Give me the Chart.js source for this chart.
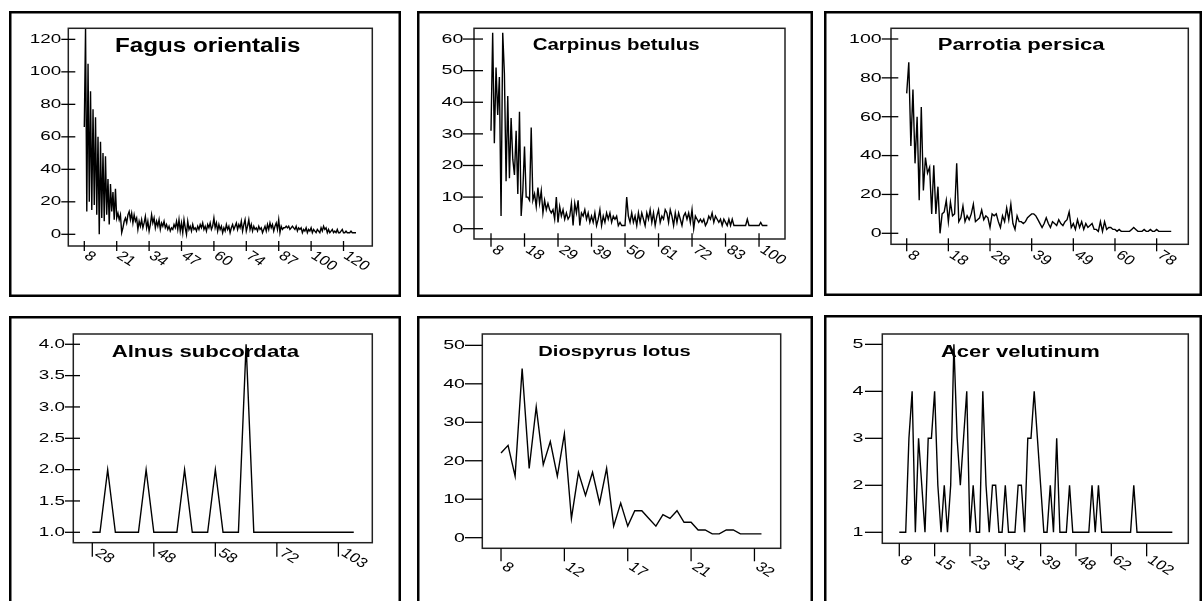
<!DOCTYPE html>
<html>
<head>
<meta charset="utf-8">
<script src="https://cdn.jsdelivr.net/npm/chart.js@4.4.1/dist/chart.umd.min.js"></script>
<style>
html,body{margin:0;padding:0;background:#fff;overflow:hidden;width:1204px;height:601px;}
canvas{position:absolute;}
</style>
</head>
<body>
<canvas id="c1" width="392" height="286" style="left:9px;top:11px;width:392px;height:286px"></canvas>
<canvas id="c2" width="396" height="286" style="left:417px;top:11px;width:396px;height:286px"></canvas>
<canvas id="c3" width="378" height="285" style="left:824px;top:11px;width:378px;height:285px"></canvas>
<canvas id="c4" width="392" height="300" style="left:9px;top:316px;width:392px;height:300px"></canvas>
<canvas id="c5" width="396" height="300" style="left:417px;top:316px;width:396px;height:300px"></canvas>
<canvas id="c6" width="378" height="300" style="left:824px;top:315px;width:378px;height:300px"></canvas>
<script>
// ---------------- DATA ----------------
const fagusValues = [
 66,127,14,105,20,88,15,77,18,72,12,60,0,57,10,50,8,48,12,34,6,31,14,26,9,28,10,
 13,9,12,1,4,8,10,7,12,14,9,13,7,12,8,10,3,8,5,9,4,7,11,4,8,2,
 6,12,7,10,4,8,5,9,3,7,5,8,4,6,3,5,2,4,3,6,4,8,3,9,2,7,
 1,9,4,0,8,3,5,2,6,3,4,2,5,3,6,4,7,3,5,2,6,4,7,3,5,10,
 4,7,2,6,3,5,1,4,2,6,3,5,1,4,6,3,5,7,3,6,4,8,2,6,9,2,
 5,9,3,6,2,5,3,4,2,5,3,4,1,3,5,2,6,3,7,4,6,2,5,7,3,9,
 1,5,3,4,4,5,4,5,3,4,5,4,3,5,2,4,3,4,1,3,2,4,1,3,2,4,
 1,3,2,1,3,2,1,4,2,5,3,4,1,3,1,2,3,1,2,1,3,1,1,2,3,1,
 1,2,1,1,1,2,1,1,1,1
];
const fagusTickLabels = ['8','21','34','47','60','74','87','100','120'];
const fagusTickStep = 26;
const fagusYTicks = [0,20,40,60,80,100,120];

const carpinusValues = [
 31,62,27,51,36,48,4,62,49,15,42,16,35,22,17,31,11,37,4,12,26,
 10,10,9,32,9,11,7,13,8,12,5,9,6,8,6,5,6,3,10,2,
 7,4,6,3,5,3,4,8,1,8,5,9,1,5,4,6,3,5,2,4,
 2,5,1,3,6,1,4,2,5,3,5,2,4,3,4,1,2,1,1,1,10,4,
 2,5,2,4,1,5,2,5,3,1,5,3,6,2,5,1,4,6,
 2,4,3,6,5,2,6,4,1,5,2,5,3,1,4,5,3,5,2,6,
 0,4,3,2,3,2,3,1,2,4,3,5,2,4,3,2,3,1,3,2,
 1,3,1,3,1,1,1,1,1,1,1,1,3,1,1,1,1,1,1,1,2,1,1,1,1
];
const carpinusTickLabels = ['8','18','29','39','50','61','72','83','100'];
const carpinusTickStep = 20;
const carpinusYTicks = [0,10,20,30,40,50,60];

const parrotiaValues = [
 72,88,45,74,36,60,17,65,22,39,
 31,34,10,35,10,24,0,10,11,17,
 6,16,9,10,36,6,8,14,6,9,
 7,10,15,6,7,8,12,7,9,8,
 3,10,9,10,6,3,9,6,13,7,
 15,5,2,9,6,6,5,6,8,9,
 10,10,9,7,5,3,5,8,5,3,
 6,5,4,7,5,4,6,7,11,3,
 5,2,7,3,6,2,5,3,4,5,
 2,2,1,6,1,6,2,3,3,2,
 2,1,2,1,1,1,1,1,2,3,
 2,1,1,1,2,1,1,2,1,1,
 2,1,1,1,1,1,1,1
];
const parrotiaTickLabels = ['8','18','28','39','49','60','78'];
const parrotiaTickStep = 20;
const parrotiaYTicks = [0,20,40,60,80,100];

const alnusValues = [1,1,2,1,1,1,1,2,1,1,1,1,2,1,1,1,2,1,1,1,4,1,1,1,1,1,1,1,1,1,1,1,1,1,1];
const alnusTickLabels = ['28','48','58','72','103'];
const alnusTickStep = 8;
const alnusYTicks = [1.0,1.5,2.0,2.5,3.0,3.5,4.0];

const diospyrusValues = [22,24,16,44,18,34,19,25,16,27,5,17,11,17,9,18,3,9,3,7,7,5,3,6,5,7,4,4,2,2,1,1,2,2,1,1,1,1];
const diospyrusTickLabels = ['8','12','17','21','32'];
const diospyrusTickStep = 9;
const diospyrusYTicks = [0,10,20,30,40,50];

const acerValues = [
 1,1,1,3,4,1,3,2,1,3,3,
 4,2,1,2,1,2,5,3,2,3,4,
 1,2,1,1,4,2,1,2,2,1,1,
 2,1,1,1,2,2,1,3,3,4,3,
 2,1,1,2,1,3,1,1,1,2,1,
 1,1,1,1,1,2,1,2,1,1,1,
 1,1,1,1,1,1,1,2,1,1,1,
 1,1,1,1,1,1,1,1,1
];
const acerTickLabels = ['8','15','23','31','39','48','62','102'];
const acerTickStep = 11;
const acerYTicks = [1,2,3,4,5];

// ---------------- LAYOUT / STYLE ----------------
const panels = [
 {id:'c1', title:'Fagus orientalis', values:fagusValues, tickLabels:fagusTickLabels, tickStep:fagusTickStep, yTicks:fagusYTicks, yDec:0,
  pad:{left:59.3,top:17.3,right:28.7,bottom:51}, xMin:-12.84, xMax:231.1, yMin:-7.2, yMax:126.8,
  tFont:19.5, tSx:1.24, tDx:46.7, tDy:24, yFont:13, yGap:7, yOut:7, yIn:7, xUp:5, xDown:5, lDx:7, lDy:3},
 {id:'c2', title:'Carpinus betulus', values:carpinusValues, tickLabels:carpinusTickLabels, tickStep:carpinusTickStep, yTicks:carpinusYTicks, yDec:0,
  pad:{left:57,top:17.3,right:28,bottom:58}, xMin:-10.15, xMax:175.5, yMin:-3.26, yMax:63.4,
  tFont:16.3, tSx:1.255, tDx:58.7, tDy:21.7, yFont:13.5, yGap:10.7, yOut:11, yIn:9, xUp:5.7, xDown:7.7, lDx:8, lDy:4},
 {id:'c3', title:'Parrotia persica', values:parrotiaValues, tickLabels:parrotiaTickLabels, tickStep:parrotiaTickStep, yTicks:parrotiaYTicks, yDec:0,
  pad:{left:67,top:17.3,right:13.7,bottom:51.7}, xMin:-7.54, xMax:135.2, yMin:-5.66, yMax:105.5,
  tFont:16, tSx:1.38, tDx:46.7, tDy:21.7, yFont:13.5, yGap:9.3, yOut:9.3, yIn:7.3, xUp:6, xDown:7, lDx:8, lDy:4},
 {id:'c4', title:'Alnus subcordata', values:alnusValues, tickLabels:alnusTickLabels, tickStep:alnusTickStep, yTicks:alnusYTicks, yDec:1,
  pad:{left:64.3,top:18,right:28.7,bottom:73.3}, xMin:-2.47, xMax:36.41, yMin:0.834, yMax:4.164,
  tFont:17.2, tSx:1.29, tDx:38.4, tDy:22.6, yFont:13, yGap:8.3, yOut:8.3, yIn:6.7, xUp:0, xDown:14, lDx:10, lDy:3.5},
 {id:'c5', title:'Diospyrus lotus', values:diospyrusValues, tickLabels:diospyrusTickLabels, tickStep:diospyrusTickStep, yTicks:diospyrusYTicks, yDec:0,
  pad:{left:65.3,top:18,right:32.3,bottom:67.7}, xMin:-2.66, xMax:39.73, yMin:-2.76, yMax:52.95,
  tFont:15.4, tSx:1.31, tDx:56, tDy:22, yFont:13.5, yGap:17.3, yOut:17.3, yIn:0, xUp:0, xDown:13, lDx:8, lDy:11.6},
 {id:'c6', title:'Acer velutinum', values:acerValues, tickLabels:acerTickLabels, tickStep:acerTickStep, yTicks:acerYTicks, yDec:0,
  pad:{left:58.3,top:19,right:13.7,bottom:71.7}, xMin:-5.29, xMax:89.97, yMin:0.766, yMax:5.22,
  tFont:16.3, tSx:1.35, tDx:58.7, tDy:22.7, yFont:13.5, yGap:19, yOut:17.3, yIn:0, xUp:0, xDown:13, lDx:8, lDy:10}
];

const FONT = '"Liberation Sans", Arial, Helvetica, sans-serif';
const NUM_SX = 1.45;
const XLAB_FONT = 13.5;
const XLAB_SX = 1.25;
const XLAB_ROT = 38 * Math.PI / 180;

function framePlugin(p) {
  return {
    id: 'frame_' + p.id,
    beforeDatasetsDraw(chart) {
      const ctx = chart.ctx, a = chart.chartArea;
      ctx.save();
      ctx.fillStyle = '#000';
      ctx.font = 'bold ' + p.tFont + 'px ' + FONT;
      ctx.textAlign = 'left';
      ctx.textBaseline = 'alphabetic';
      ctx.translate(a.left + p.tDx, a.top + p.tDy);
      ctx.scale(p.tSx, 1);
      ctx.fillText(p.title, 0, 0);
      ctx.restore();
    },
    afterDraw(chart) {
      const ctx = chart.ctx, a = chart.chartArea;
      const xs = chart.scales.x, ys = chart.scales.y;
      ctx.save();
      // outer panel border
      ctx.strokeStyle = '#000';
      ctx.lineWidth = 2.5;
      ctx.strokeRect(1.25, 1.25, chart.width - 2.5, chart.height - 2.5);
      // plot frame
      ctx.strokeStyle = '#222';
      ctx.lineWidth = 1.5;
      ctx.strokeRect(a.left, a.top, a.right - a.left, a.bottom - a.top);
      // y ticks + labels
      ctx.strokeStyle = '#000';
      ctx.lineWidth = 1.3;
      ctx.fillStyle = '#000';
      ctx.font = p.yFont + 'px ' + FONT;
      ys.ticks.forEach((t, k) => {
        const y = ys.getPixelForValue(t.value);
        ctx.beginPath();
        ctx.moveTo(a.left - p.yOut, y);
        ctx.lineTo(a.left + p.yIn, y);
        ctx.stroke();
        ctx.save();
        ctx.translate(a.left - p.yGap, y + 0.358 * p.yFont - 1);
        ctx.scale(NUM_SX, 1);
        ctx.textAlign = 'right';
        ctx.textBaseline = 'alphabetic';
        ctx.fillText(Number(p.yTicks[k]).toFixed(p.yDec), 0, 0);
        ctx.restore();
      });
      // x ticks + rotated labels
      ctx.font = XLAB_FONT + 'px ' + FONT;
      xs.ticks.forEach((t, k) => {
        const x = xs.getPixelForValue(t.value);
        ctx.beginPath();
        ctx.moveTo(x, a.bottom - p.xUp);
        ctx.lineTo(x, a.bottom + p.xDown);
        ctx.stroke();
        ctx.save();
        ctx.translate(x + p.lDx, a.bottom + p.lDy);
        ctx.scale(XLAB_SX, 1);
        ctx.rotate(XLAB_ROT);
        ctx.textAlign = 'left';
        ctx.textBaseline = 'top';
        ctx.fillText(p.tickLabels[k], 0, 0);
        ctx.restore();
      });
      ctx.restore();
    }
  };
}

panels.forEach(p => {
  const cv = document.getElementById(p.id);
  new Chart(cv, {
    type: 'line',
    data: {
      labels: p.values.map((_, i) => i),
      datasets: [{
        data: p.values,
        borderColor: '#000',
        borderWidth: 1.4,
        pointRadius: 0,
        tension: 0,
        fill: false
      }]
    },
    options: {
      responsive: false,
      animation: false,
      devicePixelRatio: 1,
      layout: { padding: p.pad },
      plugins: { legend: { display: false }, tooltip: { enabled: false }, title: { display: false } },
      scales: {
        x: {
          type: 'linear', display: false, min: p.xMin, max: p.xMax,
          afterBuildTicks: s => { s.ticks = p.tickLabels.map((_, k) => ({ value: k * p.tickStep })); }
        },
        y: {
          type: 'linear', display: false, min: p.yMin, max: p.yMax,
          afterBuildTicks: s => { s.ticks = p.yTicks.map(v => ({ value: v })); }
        }
      }
    },
    plugins: [framePlugin(p)]
  });
});
</script>
</body>
</html>
